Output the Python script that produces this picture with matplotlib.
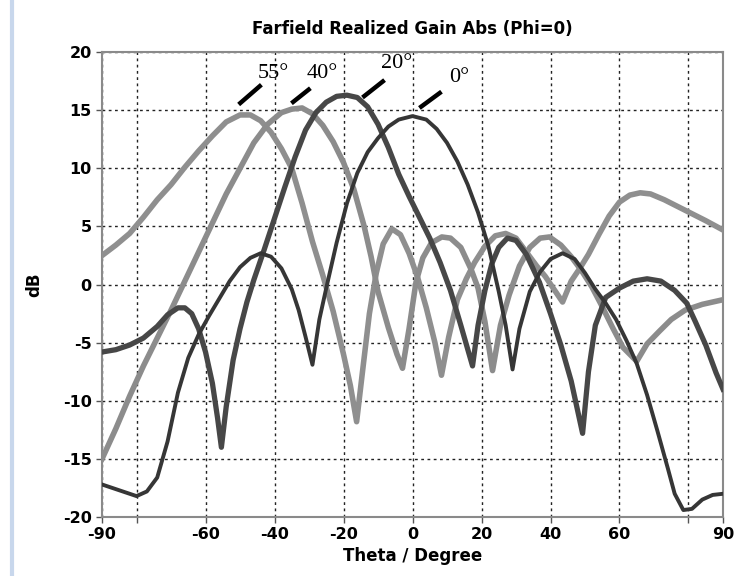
import matplotlib
matplotlib.use("Agg")
import matplotlib.pyplot as plt
from matplotlib.lines import Line2D

plt.rcParams["axes.unicode_minus"] = False

# ---- data ----
theta_0 = [-90, -87, -84, -80, -77, -74, -71, -68, -65, -62, -59, -56, -53, -50, -47, -44, -41, -38, -35, -33, -31, -29,
           -27, -25, -22, -19, -16, -13, -10, -7, -4, 0, 4, 7, 10, 13, 16, 19, 22, 25, 27, 29, 31, 34, 37, 40, 43.5,
           47, 50, 53, 56, 59, 62, 65, 68, 71, 74, 76, 78.5, 81, 84, 87, 90]
gain_0 = [-17.2, -17.5, -17.8, -18.2, -17.8, -16.6, -13.5, -9.3, -6.3, -4.3, -2.7, -1.2, 0.3, 1.5, 2.3, 2.7, 2.4, 1.4,
          -0.4, -2.2, -4.5, -6.9, -3.0, -0.3, 3.6, 7.0, 9.6, 11.4, 12.6, 13.6, 14.2, 14.5, 14.2, 13.4, 12.2, 10.6, 8.6,
          6.2, 3.3, -0.6, -3.5, -7.3, -3.8, -0.6, 1.1, 2.2, 2.7, 2.2, 1.0, -0.4, -1.6, -3.0, -4.8, -6.8, -9.5, -12.6,
          -15.8, -18.0, -19.4, -19.3, -18.5, -18.1, -18.0]

theta_20 = [-90, -86, -82, -78, -74, -71, -68, -66, -64, -62, -60, -58, -56.5, -55.4, -54, -52, -50, -48, -46, -43, -40,
            -37, -34, -31, -28, -25, -22, -19, -16, -13, -10, -7, -4, -1, 2, 5, 8, 11, 14, 17.4, 19, 21, 23, 25, 27.5,
            30, 33, 36.8, 40, 43, 46, 49.3, 51, 53, 56, 60, 64, 68, 72, 76, 79.5, 82, 85, 88, 90]
gain_20 = [-5.8, -5.6, -5.2, -4.6, -3.6, -2.6, -2.0, -2.0, -2.5, -3.8, -5.8, -8.5, -11.5, -14.0, -10.5, -6.5, -3.8, -1.5,
           0.4, 3.0, 5.7, 8.4, 11.0, 13.3, 14.8, 15.7, 16.2, 16.3, 16.1, 15.3, 13.8, 11.8, 9.5, 7.6, 5.8, 4.0, 1.9, -0.5,
           -3.5, -7.0, -3.5, -0.5, 1.8, 3.2, 4.0, 3.8, 2.6, 0.2, -2.5, -5.2, -8.3, -12.8, -7.5, -3.5, -1.1, -0.3, 0.3,
           0.5, 0.3, -0.5, -1.6, -3.2, -5.2, -7.6, -9.0]

theta_40 = [-90, -86, -82, -78, -74, -70, -66, -62, -58, -54, -50, -46, -42, -38, -35, -32, -29, -26, -23, -20, -17, -14,
            -12, -10, -7, -4.5, -2.9, -1, 1, 3, 5.5, 8.5, 11, 14, 17, 19, 21, 23.2, 25.5, 28, 31, 34, 37, 39.7, 43, 46,
            49, 52, 55, 58, 61, 65, 68, 71.6, 75, 79, 84, 90]
gain_40 = [-15.0, -12.4, -9.6, -7.0, -4.6, -2.2, 0.3, 2.8, 5.3, 7.8, 10.0, 12.2, 13.8, 14.8, 15.1, 15.2, 14.7, 13.7,
           12.3, 10.5, 8.2, 5.0, 2.4, -0.6, -3.7, -6.0, -7.2, -3.8, 0.2, 2.3, 3.6, 4.1, 4.0, 3.2, 1.3, -0.3, -3.2, -7.4,
           -3.5, -0.9, 1.6, 3.2, 4.0, 4.1, 3.4, 2.4, 1.2, -0.2, -1.9, -3.7, -5.4, -6.6, -5.1, -4.0, -3.0, -2.2, -1.7,
           -1.3]

theta_55 = [-90, -86, -82, -78, -74, -70, -66, -62, -58, -54, -50, -47, -44, -41, -38, -35, -32, -29, -26, -23, -20, -18,
            -16.2, -14.5, -12.5, -10.5, -8.5, -6, -3.5, -1, 1.5, 4, 6.5, 8.4, 10.5, 13, 15.6, 18, 21, 24, 27, 30, 33,
            36, 38.5, 41, 43.5, 46, 48.5, 51, 54, 57, 60, 63, 66, 69, 73, 77, 81, 85, 90]
gain_55 = [2.5, 3.4, 4.4, 5.8, 7.3, 8.6, 10.1, 11.5, 12.8, 14.0, 14.6, 14.6, 14.1, 13.1, 11.7, 10.0, 7.0, 3.7, 0.8, -2.3,
           -6.0, -8.7, -11.8, -7.5, -2.5, 1.0, 3.5, 4.8, 4.3, 2.7, 0.6, -2.0, -5.0, -7.8, -4.5, -1.3, 0.5, 1.9, 3.3, 4.2,
           4.4, 4.0, 2.8, 1.6, 0.7, -0.4, -1.5, 0.3, 1.4, 2.6, 4.3, 5.9, 7.1, 7.7, 7.9, 7.8, 7.3, 6.7, 6.1, 5.5, 4.7]

labels = ["55\u00b0", "40\u00b0", "20\u00b0", "0\u00b0"]
label_xy = [(-40.3, 18.2), (-26.1, 18.2), (-4.6, 19.0), (13.6, 17.8)]
leader_from = [(-43.8, 17.2), (-29.6, 16.9), (-8.1, 17.6), (8.4, 16.6)]
leader_to = [(-50.4, 15.5), (-35.1, 15.6), (-14.5, 16.1), (2.0, 15.2)]

xticks = [-90, -80, -60, -40, -20, 0, 20, 40, 60, 80, 90]
xticklabels = ["-90", "", "-60", "-40", "-20", "0", "20", "40", "60", "", "90"]
yticks = [-20, -15, -10, -5, 0, 5, 10, 15, 20]

# ---- figure ----
fig = plt.figure(figsize=(7.34, 5.76), dpi=100)
ax = fig.add_axes([0.139, 0.1024, 0.846, 0.807])

ax.plot(theta_55, gain_55, color="#8f8f8f", lw=4.0, solid_joinstyle="round", zorder=3)
ax.plot(theta_40, gain_40, color="#8c8c8c", lw=4.0, solid_joinstyle="round", zorder=3)
ax.plot(theta_20, gain_20, color="#474747", lw=3.8, solid_joinstyle="round", zorder=4)
ax.plot(theta_0, gain_0, color="#363636", lw=2.8, solid_joinstyle="round", zorder=4)

ax.set_xlim(-90, 90)
ax.set_ylim(-20, 20)
ax.set_xticks(xticks)
ax.set_xticklabels(xticklabels)
ax.set_yticks(yticks)
ax.grid(True, color="#222222", linestyle=(0, (2, 2.5)), linewidth=1.0)
ax.set_axisbelow(True)
for s in ax.spines.values():
    s.set_color("#8a8a8a")
    s.set_linewidth(1.5)
ax.tick_params(direction="out", length=4, width=1, color="#555555", labelsize=11.5)
for lab in ax.get_xticklabels() + ax.get_yticklabels():
    lab.set_fontweight("bold")

ax.set_title("Farfield Realized Gain Abs (Phi=0)", fontsize=12, fontweight="bold", pad=13)
ax.set_xlabel("Theta / Degree", fontsize=12, fontweight="bold", labelpad=3)
ax.set_ylabel("dB", fontsize=12, fontweight="bold", labelpad=14)

for lab, (tx, ty), (x0, y0), (x1, y1) in zip(labels, label_xy, leader_from, leader_to):
    ax.text(tx, ty, lab, fontsize=16, family="Liberation Serif", ha="center", va="center", zorder=6)
    ax.plot([x0, x1], [y0, y1], color="black", lw=3.2, solid_capstyle="butt", zorder=6, clip_on=False)

fig.add_artist(Line2D([0.017, 0.017], [0, 1], color="#c8d7ec", lw=3, transform=fig.transFigure))

fig.savefig("out.png", dpi=100)
